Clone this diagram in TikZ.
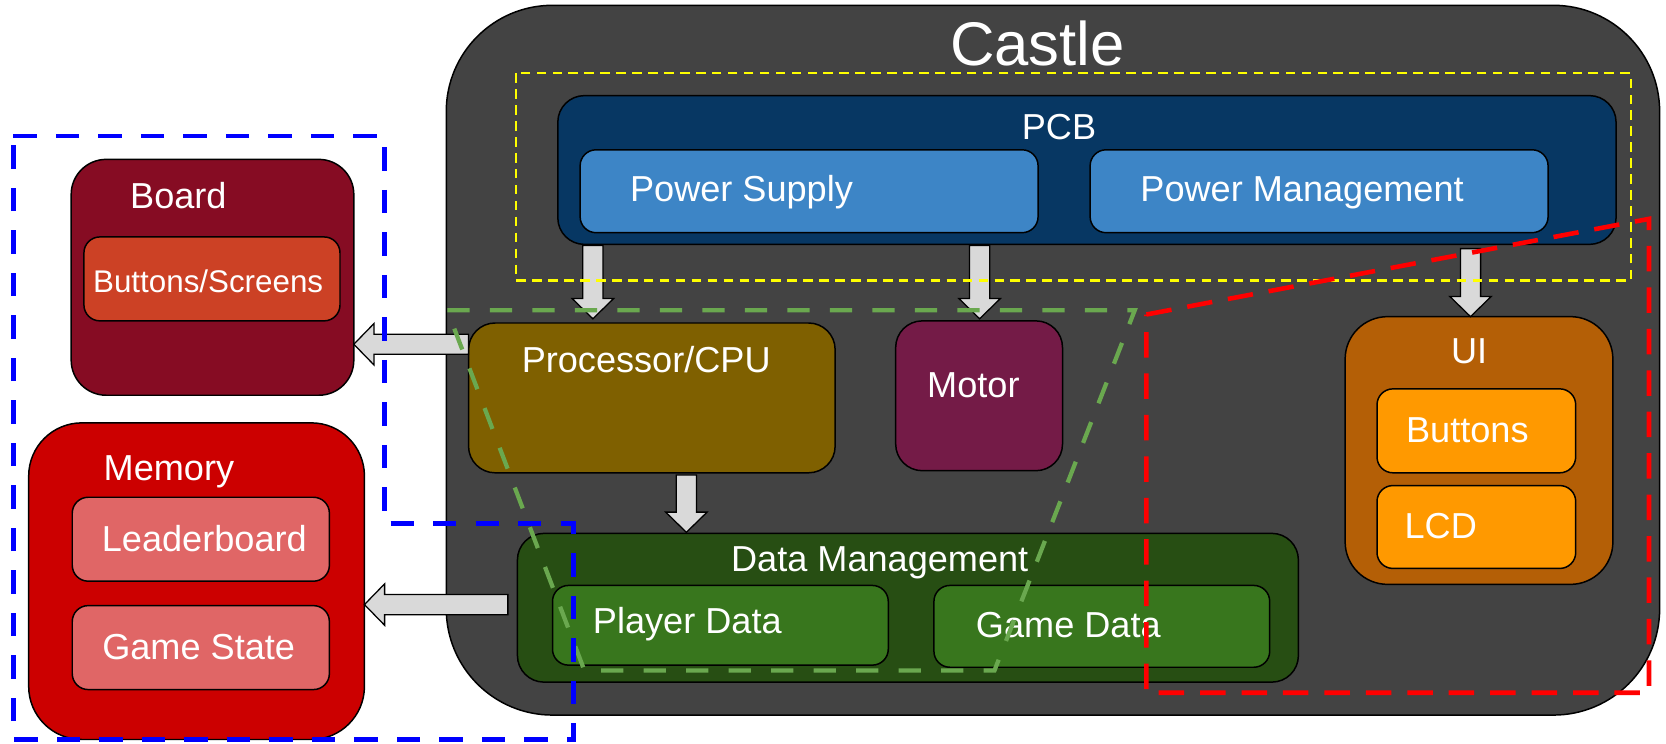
\documentclass[tikz,border=0pt]{standalone}
\usepackage{fontspec}
\setmainfont{Liberation Sans}
\usetikzlibrary{calc,fit}
\definecolor{castlec}{HTML}{434343}
\definecolor{pcbc}{HTML}{073763}
\definecolor{psc}{HTML}{3D85C6}
\definecolor{boardc}{HTML}{860C23}
\definecolor{bsc}{HTML}{CC4125}
\definecolor{memc}{HTML}{CC0000}
\definecolor{lbc}{HTML}{E06666}
\definecolor{cpuc}{HTML}{7F6000}
\definecolor{motorc}{HTML}{741B47}
\definecolor{dmc}{HTML}{274E13}
\definecolor{pdc}{HTML}{38761D}
\definecolor{uic}{HTML}{B45F06}
\definecolor{btnc}{HTML}{FF9900}
\definecolor{arrowc}{HTML}{D9D9D9}
\definecolor{greendash}{HTML}{6AA84F}
\definecolor{bluedashc}{HTML}{0000FF}
\definecolor{reddashc}{HTML}{FF0000}
\definecolor{yellowdashc}{HTML}{FFFF00}
\tikzset{
  box/.style={draw=black, line width=0.7pt, inner sep=0pt, outer sep=0pt},
  lbl/.style={text=white, inner sep=0pt, anchor=base, font=\fontsize{17}{20}\selectfont},
  blk/.style={draw=black, line width=0.6pt, fill=arrowc, line join=miter},
  bluereg/.style={draw=bluedashc, line width=2.35pt, dash pattern=on 11pt off 9pt},
  redreg/.style={draw=reddashc, line width=2.15pt, dash pattern=on 12pt off 7.5pt},
  greenreg/.style={draw=greendash, line width=2pt, dash pattern=on 10.5pt off 9.5pt},
  yellowreg/.style={draw=yellowdashc, line width=1pt, dash pattern=on 4.5pt off 3pt},
}
\newcommand{\blkdown}[2]{%
  \draw[blk] ($(#1)+(-9.5,0)$) -- ($(#1)+(9.5,0)$) -- ($(#2)+(9.5,-19)$) -- ($(#2)+(19.5,-19)$)
    -- (#2) -- ($(#2)+(-19.5,-19)$) -- ($(#2)+(-9.5,-19)$) -- cycle;}
\newcommand{\blkleft}[2]{%
  \draw[blk] ($(#1)+(0,-9.5)$) -- ($(#1)+(0,9.5)$) -- ($(#2)+(19,9.5)$) -- ($(#2)+(19,19.5)$)
    -- (#2) -- ($(#2)+(19,-19.5)$) -- ($(#2)+(19,-9.5)$) -- cycle;}
\begin{document}
\begin{tikzpicture}[x=0.5pt,y=-0.5pt]
\useasboundingbox (0,0) rectangle (1568,700);
% castle
\node[box, fill=castlec, rounded corners=50pt, fit={(420,5) (1562,673)}] (castle) {};
\node[lbl, font=\fontsize{29}{34}\selectfont] (castlelbl) at (976.5,61.2) {Castle};
% PCB
\node[box, fill=pcbc, rounded corners=12.5pt, fit={(525,90) (1521,230)}] (pcb) {};
\node[lbl] (pcblbl) at (996.7,131.1) {PCB};
\node[box, fill=psc, rounded corners=7.5pt, fit={(546,141) (977,219)}] (ps) {};
\node[lbl] (pslbl) at (697.9,189.8) {Power Supply};
\node[box, fill=psc, rounded corners=7.5pt, fit={(1026,141) (1457,219)}] (pm) {};
\node[lbl] (pmlbl) at (1225.5,190) {Power Management};
% Board
\node[box, fill=boardc, rounded corners=16.5pt, fit={(67,150) (333,372)}] (board) {};
\node[lbl] (boardlbl) at (167.9,196) {Board};
\node[box, fill=bsc, rounded corners=7.5pt, fit={(79,223) (320,302)}] (bs) {};
\node[lbl, font=\fontsize{14.75}{17}\selectfont] (bslbl) at (195.9,275.5) {Buttons/Screens};
% Memory
\node[box, fill=memc, rounded corners=25pt, fit={(27,398) (343,696)}] (memory) {};
\node[lbl] (memlbl) at (159,451.8) {Memory};
\node[box, fill=lbc, rounded corners=7.5pt, fit={(68,468) (310,547)}] (lb) {};
\node[lbl] (lblbl) at (192.3,519.2) {Leaderboard};
\node[box, fill=lbc, rounded corners=7.5pt, fit={(68,570) (310,649)}] (gs) {};
\node[lbl] (gslbl) at (187,620.5) {Game State};
% CPU, Motor
\node[box, fill=cpuc, rounded corners=12.5pt, fit={(441,304) (786,445)}] (cpu) {};
\node[lbl] (cpulbl) at (608.2,350.4) {Processor/CPU};
\node[box, fill=motorc, rounded corners=12.5pt, fit={(843,302) (1000,443)}] (motor) {};
\node[lbl] (motorlbl) at (916.1,374) {Motor};
% Data management
\node[box, fill=dmc, rounded corners=12.5pt, fit={(487,502) (1222,642)}] (dm) {};
\node[lbl] (dmlbl) at (828,538) {Data Management};
\node[box, fill=pdc, rounded corners=7.5pt, fit={(520,551) (836,626)}] (pd) {};
\node[lbl] (pdlbl) at (646.9,596.7) {Player Data};
\node[box, fill=pdc, rounded corners=7.5pt, fit={(879,551) (1195,628)}] (gd) {};
\node[lbl] (gdlbl) at (1005.5,600) {Game Data};
% UI
\node[box, fill=uic, rounded corners=20pt, fit={(1266,298) (1518,550)}] (ui) {};
\node[lbl] (uilbl) at (1382.7,342.4) {UI};
\node[box, fill=btnc, rounded corners=7.5pt, fit={(1296,366) (1483,445)}] (btn) {};
\node[lbl] (btnlbl) at (1381,416.8) {Buttons};
\node[box, fill=btnc, rounded corners=7.5pt, fit={(1296,457) (1483,535)}] (lcd) {};
\node[lbl] (lcdlbl) at (1356,506.4) {LCD};
% arrows
\coordinate (a1s) at ($(pcb.south west)+(33,1)$);
\coordinate (a1e) at ($(cpu.north west)+(117,-4)$);
\coordinate (a2s) at ($(pcb.south west)+(397,1)$);
\coordinate (a2e) at ($(motor.north west)+(79,-2)$);
\coordinate (a3s) at ($(pcb.south east)+(-137,4)$);
\coordinate (a3e) at ($(ui.north west)+(118,0)$);
\coordinate (a4s) at ($(cpu.south west)+(205,2)$);
\coordinate (a4e) at ($(dm.north west)+(159,-1)$);
\coordinate (a5s) at ($(cpu.north west)+(0,20)$);
\coordinate (a5e) at ($(board.north east)+(0,174)$);
\coordinate (a6s) at ($(dm.north west)+(-9,67)$);
\coordinate (a6e) at ($(memory.north east)+(0,171)$);
\blkdown{a1s}{a1e}
\blkdown{a2s}{a2e}
\blkdown{a3s}{a3e}
\blkdown{a4s}{a4e}
\blkleft{a5s}{a5e}
\blkleft{a6s}{a6e}
% dashed regions
\draw[yellowreg] (486,69) rectangle (1535,264);
\draw[greenreg] (421,292) -- (1068,292) -- (936,631) -- (550,631) -- cycle;
\draw[redreg] (1079,296) -- (1552,206) -- (1552,652) -- (1079,652) -- cycle;
\draw[bluereg] (12.6,128) -- (362,128) -- (362,493) -- (540,493) -- (540,696) -- (12.6,696) -- cycle;
\end{tikzpicture}
\end{document}
